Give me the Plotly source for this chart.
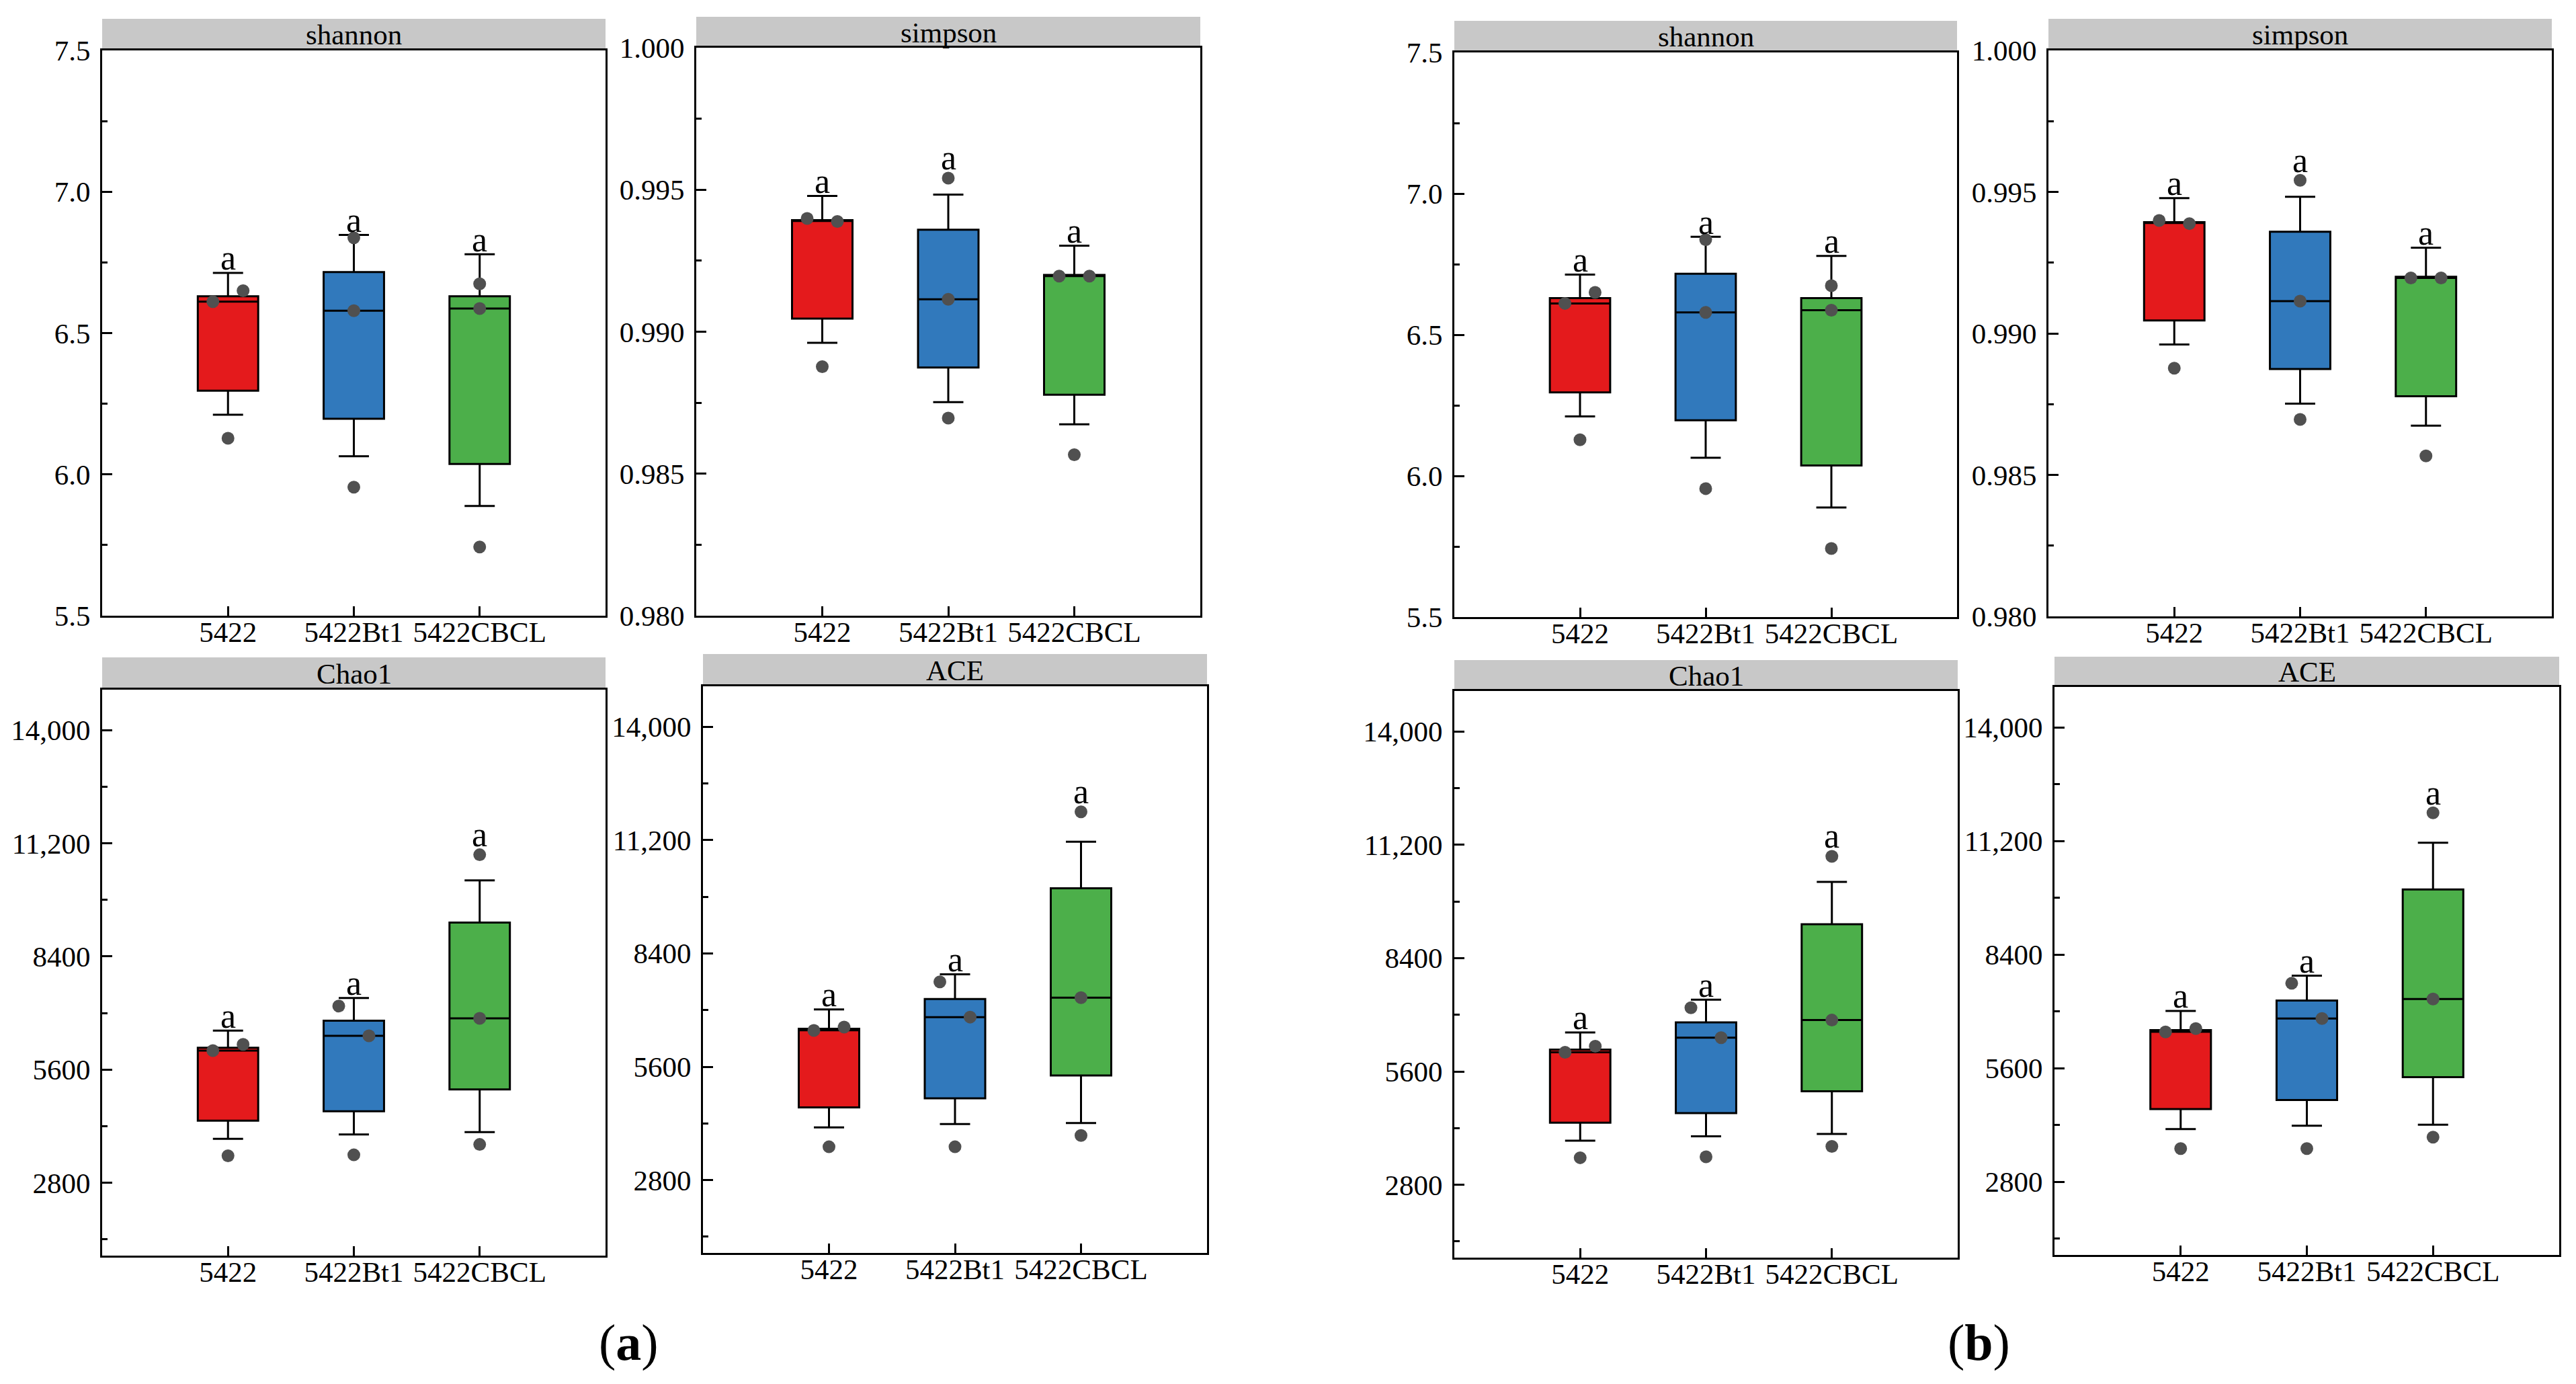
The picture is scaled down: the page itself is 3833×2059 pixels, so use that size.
import plotly.graph_objects as go

W, H = 3833, 2059
OFF = 8  # the page body adds an 8px margin around the figure
SERIF = "Liberation Serif"

groups = ["5422", "5422Bt1", "5422CBCL"]
group_colors = ["#E41A1C", "#3179BC", "#4CAF4A"]
letters = ["a", "a", "a"]

# three samples per group (dots), plus the box statistics as drawn
shannon_points = [[6.611, 6.650, 6.128], [6.837, 6.579, 5.955], [6.674, 6.587, 5.743]]
shannon_q1 = [6.296, 6.197, 6.037]
shannon_median = [6.611, 6.579, 6.587]
shannon_q3 = [6.630, 6.716, 6.630]
shannon_low = [6.211, 6.064, 5.888]
shannon_high = [6.713, 6.847, 6.779]

simpson_points = [[0.99399, 0.99388, 0.98877], [0.99541, 0.99114, 0.98696], [0.99196, 0.99196, 0.98567]]
simpson_q1 = [0.99046, 0.98874, 0.98778]
simpson_median = [0.99390, 0.99114, 0.99196]
simpson_q3 = [0.99393, 0.99359, 0.99200]
simpson_low = [0.98961, 0.98752, 0.98674]
simpson_high = [0.99478, 0.99483, 0.99303]

chao1_points = [[6072, 6224, 3468], [7174, 6436, 3492], [10916, 6869, 3750]]
chao1_q1 = [4336, 4571, 5110]
chao1_median = [6072, 6436, 6869]
chao1_q3 = [6142, 6811, 9239]
chao1_low = [3890, 3996, 4055]
chao1_high = [6565, 7374, 10282]

ace_points = [[6498, 6580, 3622], [7696, 6827, 3622], [11899, 7308, 3903]]
ace_q1 = [4596, 4819, 5383]
ace_median = [6500, 6827, 7308]
ace_q3 = [6540, 7273, 10008]
ace_low = [4103, 4185, 4209]
ace_high = [7015, 7883, 11159]

# which side each dot is nudged to (-1 left, 0 centre, 1 right)
shannon_dodge = [[-1, 1, 0], [0, 0, 0], [0, 0, 0]]
simpson_dodge = [[-1, 1, 0], [0, 0, 0], [-1, 1, 0]]
chao1_dodge = [[-1, 1, 0], [-1, 1, 0], [0, 0, 0]]
ace_dodge = [[-1, 1, 0], [-1, 1, 0], [0, 0, 0]]

metrics = [
    dict(name="shannon", pts=shannon_points, q1=shannon_q1, med=shannon_median, q3=shannon_q3,
         lo=shannon_low, hi=shannon_high, dodge=shannon_dodge,
         yrange=[5.5, 7.5], tickvals=[5.5, 6.0, 6.5, 7.0, 7.5],
         ticktext=["5.5", "6.0", "6.5", "7.0", "7.5"], minor=0.25, minor0=5.5),
    dict(name="simpson", pts=simpson_points, q1=simpson_q1, med=simpson_median, q3=simpson_q3,
         lo=simpson_low, hi=simpson_high, dodge=simpson_dodge,
         yrange=[0.980, 1.000], tickvals=[0.980, 0.985, 0.990, 0.995, 1.000],
         ticktext=["0.980", "0.985", "0.990", "0.995", "1.000"], minor=0.0025, minor0=0.980),
    dict(name="Chao1", pts=chao1_points, q1=chao1_q1, med=chao1_median, q3=chao1_q3,
         lo=chao1_low, hi=chao1_high, dodge=chao1_dodge,
         yrange=[1000, 15000], tickvals=[2800, 5600, 8400, 11200, 14000],
         ticktext=["2800", "5600", "8400", "11,200", "14,000"], minor=1400, minor0=0),
    dict(name="ACE", pts=ace_points, q1=ace_q1, med=ace_median, q3=ace_q3,
         lo=ace_low, hi=ace_high, dodge=ace_dodge,
         yrange=[1000, 15000], tickvals=[2800, 5600, 8400, 11200, 14000],
         ticktext=["2800", "5600", "8400", "11,200", "14,000"], minor=1400, minor0=0),
]

# panel frames in pixels: left, right, top, bottom, strip top
frames = [
    [(152, 901, 75, 916, 28), (1036, 1786, 71, 916, 25),
     (152, 901, 1026, 1868, 978), (1046, 1796, 1021, 1864, 973)],
    [(2164, 2912, 78, 918, 31), (3048, 3797, 75, 917, 28),
     (2164, 2913, 1028, 1871, 982), (3057, 3808, 1022, 1867, 977)],
]
panel_tags = [("(<b>a</b>)", 935, 1997), ("(<b>b</b>)", 2944, 1997)]


def px_x(v):
    return (v - OFF) / W


def px_y(v):
    return 1 - (v - OFF) / H


fig = go.Figure()
shapes = []
annotations = []
layout_axes = {}

n = 0
for half in frames:
    for m, (l, r, t, b, st) in zip(metrics, half):
        n += 1
        xa, ya = "x%d" % n, "y%d" % n
        layout_axes["xaxis%d" % n] = dict(
            domain=[px_x(l), px_x(r)], anchor=ya, range=[0, 4], automargin=False,
            tickvals=[1, 2, 3], ticktext=groups, ticks="inside", ticklen=14, tickwidth=2.5,
            tickcolor="black", showline=True, linecolor="black", linewidth=3, mirror=True,
            showgrid=False, zeroline=False, ticklabelstandoff=-16,
            tickfont=dict(family=SERIF, size=43, color="black"))
        layout_axes["yaxis%d" % n] = dict(
            domain=[px_y(b), px_y(t)], anchor=xa, range=m["yrange"], automargin=False,
            tickmode="array", tickvals=m["tickvals"], ticktext=m["ticktext"],
            ticks="inside", ticklen=15, tickwidth=2.5, tickcolor="black",
            minor=dict(ticks="inside", ticklen=8, tickwidth=2.5, tickcolor="black",
                       dtick=m["minor"], tick0=m["minor0"], showgrid=False),
            showline=True, linecolor="black", linewidth=3, mirror=True,
            showgrid=False, zeroline=False, ticklabelstandoff=6,
            tickfont=dict(family=SERIF, size=43, color="black"))

        for g in range(3):
            fig.add_trace(go.Box(
                x=[g + 1], q1=[m["q1"][g]], median=[m["med"][g]], q3=[m["q3"][g]],
                lowerfence=[m["lo"][g]], upperfence=[m["hi"][g]],
                width=0.48, whiskerwidth=0.5, fillcolor=group_colors[g],
                line=dict(color="black", width=3), boxpoints=False,
                xaxis=xa, yaxis=ya, showlegend=False, hoverinfo="skip"))
            fig.add_trace(go.Scatter(
                x=[g + 1 + 0.12 * d for d in m["dodge"][g]], y=m["pts"][g],
                mode="markers", marker=dict(size=19, color="#505050"),
                xaxis=xa, yaxis=ya, showlegend=False, hoverinfo="skip"))
            top_pt = max(m["pts"][g])
            if top_pt > m["hi"][g]:
                ytop, shift = top_pt, 30
            else:
                ytop, shift = m["hi"][g], 22
            annotations.append(dict(
                x=g + 1, y=ytop, xref=xa, yref=ya, text=letters[g], showarrow=False,
                yanchor="middle", yshift=shift,
                font=dict(family=SERIF, size=52, color="black")))

        # grey strip with the metric name
        shapes.append(dict(type="rect", xref="paper", yref="paper",
                           x0=px_x(l), x1=px_x(r), y0=px_y(t), y1=px_y(st),
                           fillcolor="#C8C8C8", line=dict(width=0), layer="below"))
        annotations.append(dict(x=px_x((l + r) / 2), y=px_y((t + st) / 2), xref="paper", yref="paper",
                                text=m["name"], showarrow=False, xanchor="center", yanchor="middle",
                                font=dict(family=SERIF, size=43, color="black")))

for text, px, py in panel_tags:
    annotations.append(dict(x=px_x(px), y=px_y(py), xref="paper", yref="paper", text=text,
                            showarrow=False, xanchor="center", yanchor="middle",
                            font=dict(family=SERIF, size=76, color="black")))

fig.update_layout(
    width=W, height=H, margin=dict(l=0, r=0, t=0, b=0, autoexpand=False),
    paper_bgcolor="white", plot_bgcolor="white",
    shapes=shapes, annotations=annotations, boxmode="overlay",
    **layout_axes)

fig.write_html("out.html")
